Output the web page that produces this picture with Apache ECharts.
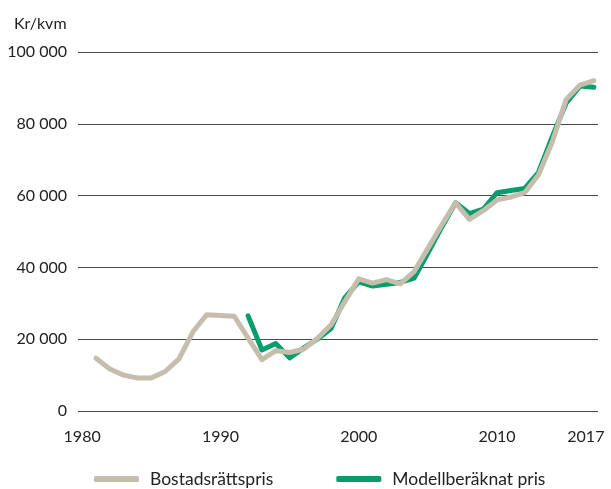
<!DOCTYPE html>
<html>
<head>
<meta charset="utf-8">
<script src="https://cdn.jsdelivr.net/npm/echarts@6/dist/echarts.min.js"></script>
<style>html,body{margin:0;padding:0;background:#fff;}#c{width:611px;height:489px;}</style>
</head>
<body>
<div id="c"></div>
<script>
const xTickLabels = [1980, 1990, 2000, 2010, 2017];
const yearsBostad = [1981,1982,1983,1984,1985,1986,1987,1988,1989,1990,1991,1992,1993,1994,1995,1996,1997,1998,1999,2000,2001,2002,2003,2004,2005,2006,2007,2008,2009,2010,2011,2012,2013,2014,2015,2016,2017];
const bostadsrattspris = [14700,11700,10000,9200,9200,11000,14500,22000,26800,26600,26400,20300,14300,16800,16300,17200,20200,24000,30500,36800,35600,36600,35400,38800,45300,51800,58000,53400,55800,58800,59600,60800,65800,75000,86800,90800,92000];
const yearsModell = [1992,1993,1994,1995,1996,1997,1998,1999,2000,2001,2002,2003,2004,2005,2006,2007,2008,2009,2010,2011,2012,2013,2014,2015,2016,2017];
const modellpris = [26500,17000,18800,14800,17500,20000,23000,31600,36000,34800,35300,35800,37000,44000,51200,58000,55000,56200,60800,61400,62000,66500,76500,85800,90500,90200];
const seriesNames = ['Bostadsrättspris', 'Modellberäknat pris'];

const FONT = 'Lato';
const chart = echarts.init(document.getElementById('c'));
chart.setOption({
  animation: false,
  textStyle: { fontFamily: FONT },
  title: { text: 'Kr/kvm', left: 9, top: 11, textStyle: { fontFamily: FONT, fontSize: 16, fontWeight: 'normal', color: '#222' } },
  grid: { left: 78, right: 13, top: 52, bottom: 78 },
  legend: {
    left: 94, top: 470, padding: 0, itemGap: 63, itemWidth: 45, itemHeight: 6,
    icon: 'roundRect',
    data: seriesNames,
    textStyle: { fontFamily: FONT, fontSize: 17.5, color: '#222', padding: [0, 0, 0, 6] }
  },
  xAxis: {
    type: 'value', min: 1979.7, max: 2017.3,
    axisLine: { show: false }, axisTick: { show: false }, splitLine: { show: false },
    axisLabel: { customValues: xTickLabels, margin: 18, fontSize: 16, color: '#222', fontFamily: FONT,
      formatter: v => v === 2017 ? '{r|2017}' : String(v),
      rich: { r: { fontSize: 16, fontFamily: FONT, color: '#222', padding: [0, 16, 0, 0] } } }
  },
  yAxis: {
    type: 'value', min: 0, max: 100000, interval: 20000,
    axisLine: { show: false }, axisTick: { show: false },
    splitLine: { lineStyle: { color: '#4a4a4a', width: 1.2 } },
    axisLabel: { margin: 11, fontSize: 16, color: '#222', fontFamily: FONT,
      formatter: v => String(v).replace(/\B(?=(\d{3})+(?!\d))/g, ' ') }
  },
  series: [
    { name: seriesNames[1], type: 'line', showSymbol: false, symbol: 'none',
      data: yearsModell.map((y, i) => [y, modellpris[i]]),
      lineStyle: { color: '#079d6c', width: 5, cap: 'round', join: 'round' }, itemStyle: { color: '#079d6c' } },
    { name: seriesNames[0], type: 'line', showSymbol: false, symbol: 'none',
      data: yearsBostad.map((y, i) => [y, bostadsrattspris[i]]),
      lineStyle: { color: '#c6beac', width: 5, cap: 'round', join: 'round' }, itemStyle: { color: '#c6beac' } }
  ]
});
</script>
</body>
</html>
